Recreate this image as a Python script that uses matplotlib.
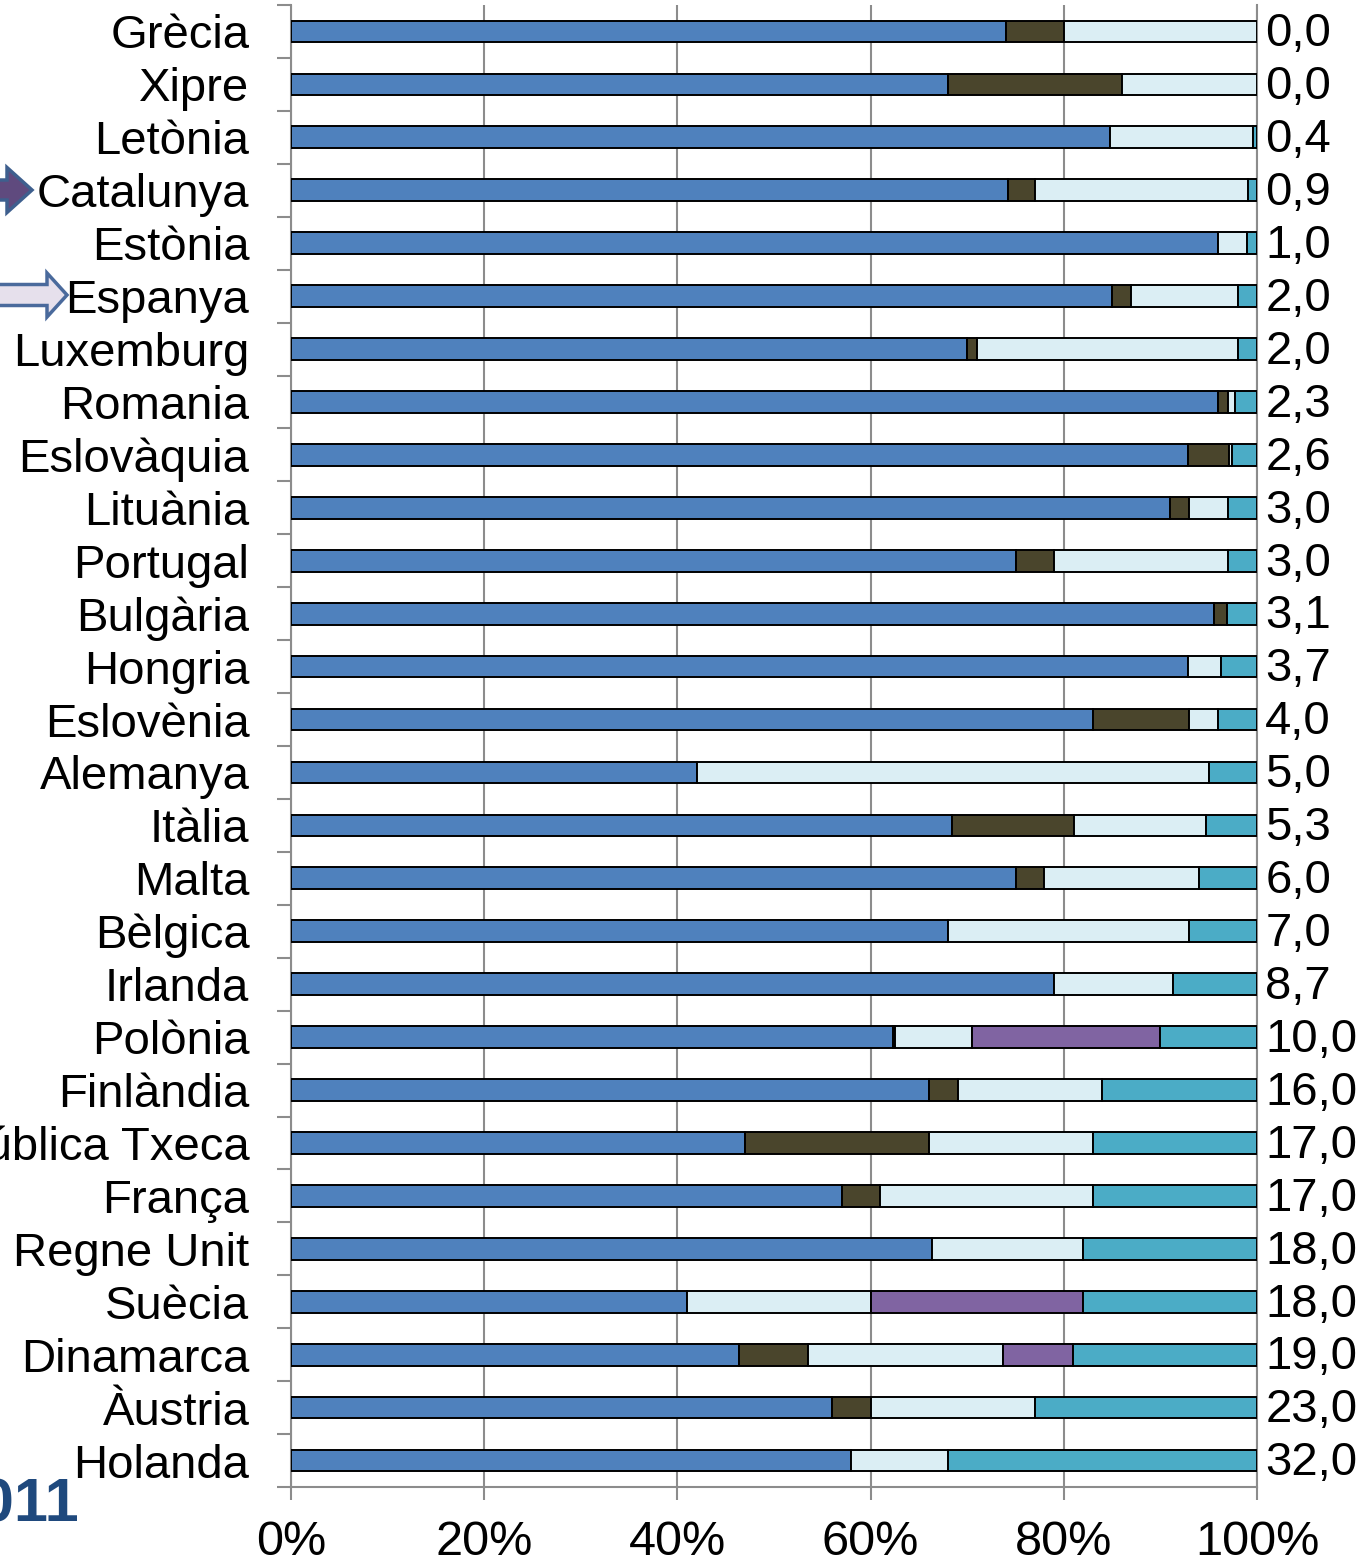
import numpy as np
import matplotlib.pyplot as plt
from matplotlib.patches import Polygon

plt.rcParams['font.family'] = ['Liberation Sans', 'DejaVu Sans']

countries = ['Grècia', 'Xipre', 'Letònia', 'Catalunya', 'Estònia', 'Espanya',
             'Luxemburg', 'Romania', 'Eslovàquia', 'Lituània', 'Portugal',
             'Bulgària', 'Hongria', 'Eslovènia', 'Alemanya', 'Itàlia', 'Malta',
             'Bèlgica', 'Irlanda', 'Polònia', 'Finlàndia', 'República Txeca',
             'França', 'Regne Unit', 'Suècia', 'Dinamarca', 'Àustria', 'Holanda']

# shares (%) of each segment, left to right
blue   = [74.0, 68.0, 84.8, 74.2, 96.0, 85.0, 70.0, 96.0, 92.9, 91.0, 75.0,
          95.5, 92.9, 83.0, 42.0, 68.4, 75.0, 68.0, 79.0, 62.3, 66.0, 47.0,
          57.0, 66.4, 41.0, 46.4, 56.0, 58.0]
brown  = [6.0, 18.0, 0.0, 2.8, 0.0, 2.0, 1.0, 1.0, 4.2, 2.0, 4.0,
          1.4, 0.0, 10.0, 0.0, 12.7, 3.0, 0.0, 0.0, 0.2, 3.0, 19.0,
          4.0, 0.0, 0.0, 7.1, 4.0, 0.0]
light  = [20.0, 14.0, 14.8, 22.1, 3.0, 11.0, 27.0, 0.7, 0.3, 4.0, 18.0,
          0.0, 3.4, 3.0, 53.0, 13.6, 16.0, 25.0, 12.3, 8.0, 15.0, 17.0,
          22.0, 15.6, 19.0, 20.2, 17.0, 10.0]
purple = [0.0, 0.0, 0.0, 0.0, 0.0, 0.0, 0.0, 0.0, 0.0, 0.0, 0.0,
          0.0, 0.0, 0.0, 0.0, 0.0, 0.0, 0.0, 0.0, 19.5, 0.0, 0.0,
          0.0, 0.0, 22.0, 7.3, 0.0, 0.0]
teal   = [0.0, 0.0, 0.4, 0.9, 1.0, 2.0, 2.0, 2.3, 2.6, 3.0, 3.0,
          3.1, 3.7, 4.0, 5.0, 5.3, 6.0, 7.0, 8.7, 10.0, 16.0, 17.0,
          17.0, 18.0, 18.0, 19.0, 23.0, 32.0]
teal_labels = ['0,0', '0,0', '0,4', '0,9', '1,0', '2,0', '2,0', '2,3', '2,6',
               '3,0', '3,0', '3,1', '3,7', '4,0', '5,0', '5,3', '6,0', '7,0',
               '8,7', '10,0', '16,0', '17,0', '17,0', '18,0', '18,0', '19,0',
               '23,0', '32,0']
x_ticks = [0, 20, 40, 60, 80, 100]

colors = ['#4F81BD', '#4A452C', '#DBEEF4', '#8064A2', '#4BACC6']
grey = '#8C8C8C'
W, H = 1372, 1566

fig = plt.figure(figsize=(W / 100, H / 100), dpi=100)
ax = fig.add_axes([291 / W, 1 - 1487 / H, (1257 - 291) / W, (1487 - 5) / H])

y = np.arange(len(countries))
left = np.zeros(len(countries))
for vals, c in zip([blue, brown, light, purple, teal], colors):
    v = np.array(vals)
    ax.barh(y, v, left=left, height=0.41, color=c, edgecolor='black',
            linewidth=np.where(v > 0, 1.4, 0), zorder=3)
    left += v

ax.set_xlim(0, 100)
ax.set_ylim(len(countries) - 0.5, -0.5)

ax.set_yticks(y)
ax.set_yticklabels(countries)
ax.set_yticks(np.arange(-0.5, len(countries), 1), minor=True)
ax.tick_params(axis='y', which='major', length=0, pad=30, labelsize=34)
ax.tick_params(axis='y', which='minor', length=10, width=1.5, color=grey)

ax.set_xticks(x_ticks)
ax.set_xticklabels([f'{t}%' for t in x_ticks])
ax.tick_params(axis='x', length=9, width=1.5, color=grey, pad=15, labelsize=35)

ax.xaxis.grid(True, color=grey, linewidth=1.5)
ax.set_axisbelow(True)
ax.spines['top'].set_visible(False)
for s in ['left', 'bottom', 'right']:
    ax.spines[s].set_color(grey)
    ax.spines[s].set_linewidth(1.5)

for yi, lab in zip(y, teal_labels):
    ax.annotate(lab, xy=(1.0, yi), xycoords=('axes fraction', 'data'),
                xytext=(6, -2), textcoords='offset points',
                ha='left', va='center', fontsize=34, annotation_clip=False)


def arrow(x0, xh, tip, yc, shaft, head, face, edge):
    pts = [(x0, yc - shaft / 2), (xh, yc - shaft / 2), (xh, yc - head / 2),
           (tip, yc), (xh, yc + head / 2), (xh, yc + shaft / 2),
           (x0, yc + shaft / 2)]
    pts = [(px / W, 1 - py / H) for px, py in pts]
    fig.patches.append(Polygon(pts, closed=True, facecolor=face, edgecolor=edge,
                               linewidth=2.5, transform=fig.transFigure))


# markers next to Catalunya and Espanya
arrow(-20, 7, 32, 190, 20, 45, '#5F4A7E', '#3E5F8E')
arrow(-5, 47, 67, 295, 21, 44, '#E6E0EC', '#4A6A9C')

fig.text(80 / W, 1 - 1522 / H, '2011', ha='right', va='baseline',
         fontsize=44, fontweight='bold', color='#1F497D')

fig.savefig('out.png', dpi=100)
